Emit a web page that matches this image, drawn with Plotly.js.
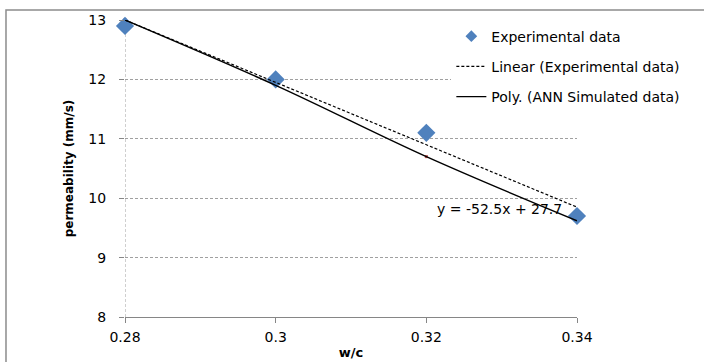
<!DOCTYPE html>
<html>
<head>
<meta charset="utf-8">
<script src="https://cdn.plot.ly/plotly-3.0.1.min.js"></script>
<style>html,body{margin:0;padding:0;background:#fff;}#chart{width:704px;height:362px;}</style>
</head>
<body>
<div id="chart"></div>
<script>
// Data
var wc = [0.28, 0.30, 0.32, 0.34];
var experimental = [12.9, 12.0, 11.1, 9.7];
var annSimulated = [13.0, 11.9, 10.7, 9.62];
var xTicks = [0.28, 0.30, 0.32, 0.34];
var xTickText = ['0.28', '0.3', '0.32', '0.34'];
var yTicks = [8, 9, 10, 11, 12, 13];

// Least-squares linear trend of the experimental data
function linFit(xs, ys) {
  var n = xs.length, mx = 0, my = 0;
  for (var i = 0; i < n; i++) { mx += xs[i]; my += ys[i]; }
  mx /= n; my /= n;
  var sxy = 0, sxx = 0;
  for (var j = 0; j < n; j++) { sxy += (xs[j]-mx)*(ys[j]-my); sxx += (xs[j]-mx)*(xs[j]-mx); }
  var m = sxy / sxx;
  return {m: m, b: my - m*mx};
}
var fit = linFit(wc, experimental);
var trendX = [wc[0], wc[wc.length-1]];
var trendY = trendX.map(function(x){ return fit.m*x + fit.b; });
var eqText = 'y = ' + fit.m.toFixed(1) + 'x + ' + fit.b.toFixed(1);

var FONT = 'DejaVu Sans, sans-serif';
var GRID = '#a0a0a0';
var BLUE = '#4f81bd';

var traces = [
  {x: wc, y: annSimulated, mode: 'markers', type: 'scatter', name: 'ANN Simulated data',
   showlegend: false, cliponaxis: false,
   marker: {symbol: 'square', size: 3, color: '#c0504d'}},
  {x: wc, y: experimental, mode: 'markers', type: 'scatter', name: 'Experimental data',
   showlegend: false, cliponaxis: false,
   marker: {symbol: 'diamond', size: 14, color: BLUE, line: {width: 0}}},
  // legend entry for the experimental markers (smaller legend symbol)
  {x: [null], y: [null], mode: 'markers', type: 'scatter', name: 'Experimental data',
   legendgroup: 'a',
   marker: {symbol: 'diamond', size: 9, color: BLUE, line: {width: 0}}},
  {x: trendX, y: trendY, mode: 'lines', type: 'scatter', name: 'Linear (Experimental data)',
   legendgroup: 'b', cliponaxis: false,
   line: {color: '#000', width: 1.2, dash: '3px,2px'}},
  {x: wc, y: annSimulated, mode: 'lines', type: 'scatter', name: 'Poly. (ANN Simulated data)',
   legendgroup: 'c', cliponaxis: false,
   line: {color: '#000', width: 1.4, shape: 'spline'}}
];

var layout = {
  width: 704, height: 362,
  margin: {l: 125, r: 127, t: 20, b: 45, pad: 0},
  paper_bgcolor: '#fff', plot_bgcolor: '#fff',
  font: {family: FONT, size: 14, color: '#000'},
  showlegend: true,
  legend: {
    x: 0.722, y: 0.998, xanchor: 'left', yanchor: 'top',
    bgcolor: '#fff', borderwidth: 0,
    font: {family: FONT, size: 14, color: '#000'},
    traceorder: 'grouped', tracegroupgap: 9
  },
  xaxis: {
    range: [0.28, 0.34], tickvals: xTicks, ticktext: xTickText,
    showgrid: false, zeroline: false,
    showline: true, linecolor: '#868686', linewidth: 1,
    ticks: 'outside', ticklen: 5, tickcolor: '#868686',
    ticklabelstandoff: 2,
    tickfont: {family: FONT, size: 14},
    title: {text: '<b>w/c</b>', font: {family: FONT, size: 13}, standoff: 4}
  },
  yaxis: {
    range: [8, 13], tickvals: yTicks,
    showgrid: true, gridcolor: GRID, gridwidth: 1, griddash: '3px,2px',
    zeroline: false, showline: false,
    ticks: 'outside', ticklen: 5, tickcolor: '#868686',
    ticklabelstandoff: 10,
    tickfont: {family: FONT, size: 14},
    title: {text: '<b>permeability (mm/s)</b>', font: {family: FONT, size: 12}, standoff: 12}
  },
  shapes: [
    {type: 'line', xref: 'x', yref: 'y', x0: 0.28, x1: 0.28, y0: 8, y1: 13,
     line: {color: GRID, width: 1, dash: '3px,2px'}, layer: 'below'},
    {type: 'rect', xref: 'paper', yref: 'paper', x0: -0.2633, x1: 1.35, y0: 1.0337, y1: -0.3,
     line: {color: '#8c8c8c', width: 1.5}, fillcolor: 'rgba(0,0,0,0)', layer: 'below'}
  ],
  annotations: [
    {x: 0.3297, y: 9.82, xref: 'x', yref: 'y', text: eqText, showarrow: false,
     font: {family: FONT, size: 14, color: '#000'}}
  ]
};

Plotly.newPlot('chart', traces, layout, {displayModeBar: false, staticPlot: true});
</script>
</body>
</html>
